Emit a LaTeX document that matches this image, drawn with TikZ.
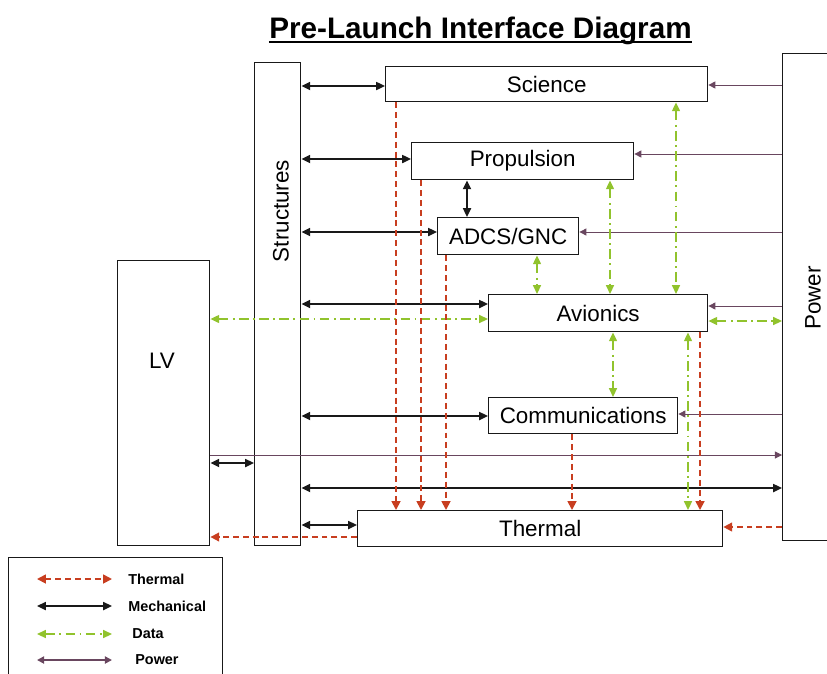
\documentclass[tikz,border=0pt]{standalone}
\usepackage{fontspec}
\setmainfont{Liberation Sans}
\usetikzlibrary{arrows.meta}
\definecolor{thermc}{RGB}{200,62,32}
\definecolor{datac}{RGB}{145,195,45}
\definecolor{powc}{RGB}{105,70,95}
\definecolor{mechc}{RGB}{25,25,25}
\begin{document}
\begin{tikzpicture}[x=0.02cm,y=-0.02cm,
 blk/.style={draw=mechc,line width=0.8pt,inner sep=0pt,anchor=north west,font=\fontsize{12.75}{15}\selectfont},
 lab/.style={inner sep=0pt,font=\fontsize{12.75}{15}\selectfont},
 leglab/.style={inner sep=0pt,anchor=west,font=\fontsize{8.2}{10}\selectfont\bfseries},
 mech/.style={draw=mechc,line width=1.1pt,{Triangle[length=5pt,width=4.5pt]}-{Triangle[length=5pt,width=4.5pt]}},
 pow/.style={draw=powc,line width=0.5pt,-{Triangle[length=4pt,width=4pt]}},
 powboth/.style={pow,{Triangle[length=4pt,width=4pt]}-{Triangle[length=4pt,width=4pt]}},
 therm/.style={draw=thermc,line width=1pt,dash pattern=on 3.4pt off 2.2pt,-{Triangle[length=5pt,width=5pt]}},
 thermboth/.style={therm,{Triangle[length=5pt,width=5pt]}-{Triangle[length=5pt,width=5pt]}},
 data/.style={draw=datac,line width=0.9pt,dash pattern=on 5.5pt off 2.5pt on 1pt off 2.5pt,{Triangle[length=5pt,width=4.5pt]}-{Triangle[length=5pt,width=4.5pt]}},
]
\useasboundingbox (0,0) rectangle (827,673);
\clip (0,0) rectangle (827,673);

% title
\node[inner sep=0pt,anchor=base,font=\fontsize{16.9}{20}\selectfont\bfseries] (title) at (480.5,38) {Pre-Launch Interface Diagram};
\draw[line width=1.3pt] ([yshift=-2.2pt]title.base west) -- ([yshift=-2.2pt]title.base east);

% blocks
\node[blk,minimum width=0.92cm,minimum height=9.66cm] (S) at (254,62) {};
\node[lab,rotate=90] (Slab) at (281,211) {Structures};
\node[blk,minimum width=6.44cm,minimum height=0.70cm] (Sci) at (385,66) {Science};
\node[blk,minimum width=4.44cm,minimum height=0.74cm] (Prop) at (411,142) {Propulsion};
\node[blk,minimum width=2.82cm,minimum height=0.74cm] (ADCS) at (437,217) {ADCS/GNC};
\node[blk,minimum width=4.38cm,minimum height=0.74cm] (Av) at (488,294) {Avionics};
\node[blk,minimum width=3.78cm,minimum height=0.72cm] (Com) at (488,397) {Communications};
\node[blk,minimum width=7.30cm,minimum height=0.72cm] (Th) at (357,510) {Thermal};
\node[blk,minimum width=1.84cm,minimum height=5.70cm] (LV) at (117,260) {};
\node[lab] (LVlab) at (162,361) {LV};
\node[blk,minimum width=1.24cm,minimum height=9.74cm] (P) at (782,53) {};
\node[lab,rotate=90] (Plab) at (813,298) {Power};

% mechanical
\draw[mech] (S.east |- 0,86) -- (Sci.west |- 0,86);
\draw[mech] (S.east |- 0,159) -- (Prop.west |- 0,159);
\draw[mech] (467,0 |- Prop.south) -- (467,0 |- ADCS.north);
\draw[mech] (S.east |- 0,232) -- (ADCS.west |- 0,232);
\draw[mech] (S.east |- 0,304) -- (Av.west |- 0,304);
\draw[mech] (S.east |- 0,416) -- (Com.west |- 0,416);
\draw[mech] (LV.east |- 0,463) -- (S.west |- 0,463);
\draw[mech] (S.east |- 0,488) -- (P.west |- 0,488);
\draw[mech] (S.east |- 0,525) -- (Th.west |- 0,525);

% power
\draw[pow] (P.west |- 0,85) -- (Sci.east |- 0,85);
\draw[pow] (P.west |- 0,154) -- (Prop.east |- 0,154);
\draw[pow] (P.west |- 0,232) -- (ADCS.east |- 0,232);
\draw[pow] (P.west |- 0,306) -- (Av.east |- 0,306);
\draw[pow] (P.west |- 0,414) -- (Com.east |- 0,414);
\draw[pow] (LV.east |- 0,455) -- (P.west |- 0,455);

% data
\draw[data] (LV.east |- 0,319) -- (Av.west |- 0,319);
\draw[data] (Av.east |- 0,321) -- (P.west |- 0,321);
\draw[data] (676,0 |- Sci.south) -- (676,0 |- Av.north);
\draw[data] (610,0 |- Prop.south) -- (610,0 |- Av.north);
\draw[data] (537,0 |- ADCS.south) -- (537,0 |- Av.north);
\draw[data] (613,0 |- Av.south) -- (613,0 |- Com.north);
\draw[data] (688,0 |- Av.south) -- (688,0 |- Th.north);

% thermal
\draw[therm] (396,0 |- Sci.south) -- (396,0 |- Th.north);
\draw[therm] (421,0 |- Prop.south) -- (421,0 |- Th.north);
\draw[therm] (446,0 |- ADCS.south) -- (446,0 |- Th.north);
\draw[therm] (572,0 |- Com.south) -- (572,0 |- Th.north);
\draw[therm] (700,0 |- Av.south) -- (700,0 |- Th.north);
\draw[therm] (Th.west |- 0,537) -- (LV.east |- 0,537);
\draw[therm] (P.west |- 0,527) -- (Th.east |- 0,527);

% legend
\node[draw=mechc,line width=0.8pt,inner sep=0pt,anchor=north west,minimum width=4.28cm,minimum height=2.8cm] (leg) at (8,557) {};
\coordinate (l1a) at (37,579); \coordinate (l1b) at (112,579);
\coordinate (l2a) at (37,606); \coordinate (l2b) at (112,606);
\coordinate (l3a) at (37,634); \coordinate (l3b) at (112,634);
\coordinate (l4a) at (37,660); \coordinate (l4b) at (112,660);
\draw[thermboth] (l1a) -- (l1b);
\draw[mech] (l2a) -- (l2b);
\draw[data] (l3a) -- (l3b);
\draw[powboth,line width=1pt] (l4a) -- (l4b);
\node[leglab] (t1) at (128,579) {Thermal};
\node[leglab] (t2) at (128,606) {Mechanical};
\node[leglab] (t3) at (132,634) {Data};
\node[leglab] (t4) at (135,660) {Power};
\end{tikzpicture}
\end{document}
